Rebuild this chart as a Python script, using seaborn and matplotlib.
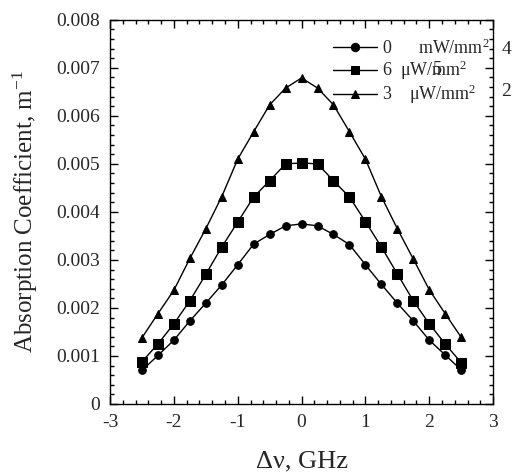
import numpy as np
import pandas as pd
import matplotlib
matplotlib.use("Agg")
import matplotlib.pyplot as plt
import seaborn as sns
from matplotlib.ticker import MultipleLocator, FuncFormatter

x = [-2.5, -2.25, -2.0, -1.75, -1.5, -1.25, -1.0, -0.75, -0.5, -0.25, 0.0,
     0.25, 0.5, 0.75, 1.0, 1.25, 1.5, 1.75, 2.0, 2.25, 2.5]
circle_vals = [0.00070, 0.00101, 0.00133, 0.00173, 0.00210, 0.00248, 0.00290, 0.00333,
               0.00353, 0.00371, 0.00375, 0.00371, 0.00353, 0.00332, 0.00290, 0.00249,
               0.00210, 0.00173, 0.00133, 0.00102, 0.00071]
square_vals = [0.00088, 0.00125, 0.00167, 0.00215, 0.00270, 0.00327, 0.00379, 0.00431,
               0.00465, 0.00500, 0.00502, 0.00500, 0.00465, 0.00431, 0.00380, 0.00327,
               0.00271, 0.00215, 0.00167, 0.00125, 0.00086]
triangle_vals = [0.00138, 0.00188, 0.00237, 0.00303, 0.00365, 0.00432, 0.00510, 0.00567,
                 0.00623, 0.00658, 0.00679, 0.00658, 0.00623, 0.00567, 0.00510, 0.00432,
                 0.00365, 0.00302, 0.00238, 0.00188, 0.00139]
labels = ["0      mW/mm$^2$", "6  \u03bcW/mm$^2$", "3    \u03bcW/mm$^2$"]

df = pd.concat([
    pd.DataFrame({"x": x, "y": circle_vals, "s": labels[0]}),
    pd.DataFrame({"x": x, "y": square_vals, "s": labels[1]}),
    pd.DataFrame({"x": x, "y": triangle_vals, "s": labels[2]}),
])

sns.set_style("ticks")
plt.rcParams["font.family"] = ["Liberation Serif", "DejaVu Serif"]
plt.rcParams["mathtext.fontset"] = "custom"
plt.rcParams["mathtext.rm"] = "Liberation Serif"
plt.rcParams["mathtext.it"] = "Liberation Serif:italic"

fig = plt.figure(figsize=(5.12, 4.73), dpi=100)
ax = fig.add_axes([0.215, 0.146, 0.748, 0.812])

sns.lineplot(data=df, x="x", y="y", hue="s", style="s",
             palette=["black", "black", "black"],
             markers={labels[0]: "o", labels[1]: "s", labels[2]: "^"},
             dashes=False, markersize=6, linewidth=1, markeredgecolor="black",
             ax=ax)
sizes = [5.5, 7, 6]
for ln, ms in zip(ax.lines[:3], sizes):
    ln.set_markersize(ms)

ax.set_xlim(-3, 3)
ax.set_ylim(0, 0.008)
ax.xaxis.set_major_locator(MultipleLocator(1))
ax.xaxis.set_minor_locator(MultipleLocator(0.2))
ax.yaxis.set_major_locator(MultipleLocator(0.001))
ax.yaxis.set_minor_locator(MultipleLocator(0.0002))
ax.yaxis.set_major_formatter(FuncFormatter(lambda v, p: "0" if abs(v) < 1e-9 else "%.3f" % v))
ax.xaxis.set_major_formatter(FuncFormatter(lambda v, p: "%d" % round(v)))
ax.tick_params(which="both", direction="in", top=True, right=True, labelsize=14, width=1, color="black")
ax.tick_params(which="major", length=6, pad=7)
ax.tick_params(which="minor", length=3)
for sp in ax.spines.values():
    sp.set_linewidth(1)
    sp.set_color("black")

ax.set_xlabel("\u0394\u03bd, GHz", fontsize=19)
ax.set_ylabel("Absorption Coefficient, m$^{-1}$", fontsize=18)
ax.xaxis.set_label_coords(0.5, -0.12)
ax.yaxis.set_label_coords(-0.183, 0.5)

leg = ax.legend(loc="upper left", bbox_to_anchor=(0.55, 0.985), frameon=False,
                fontsize=13, handlelength=2.4, handletextpad=0.3, labelspacing=0.05,
                borderpad=0.2)
for h in leg.legend_handles:
    h.set_color("black")

fig.text(506 / 512, 1 - 50 / 473, "4", fontsize=14, ha="center", va="center")
fig.text(506 / 512, 1 - 92 / 473, "2", fontsize=14, ha="center", va="center")
fig.text(437 / 512, 1 - 70 / 473, "5", fontsize=13, ha="center", va="center")

fig.savefig("out.png", dpi=100)
